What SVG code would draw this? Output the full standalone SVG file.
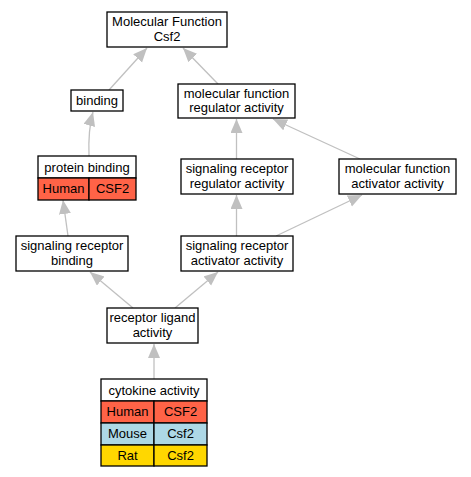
<svg xmlns="http://www.w3.org/2000/svg" width="471" height="477" viewBox="0 0 471 477">
<style>
.n rect{stroke:#000;stroke-width:1.3}
.w{fill:#fff}.h{fill:#ff6347}.m{fill:#add8e6}.r{fill:#ffd700}
text{font-family:"Liberation Sans",Arial,sans-serif;font-size:13px;fill:#000;text-anchor:middle}
.e path{fill:none;stroke:#c0c0c0;stroke-width:1.3}
</style>
<defs>
<marker id="a" markerUnits="userSpaceOnUse" markerWidth="16" markerHeight="14" refX="14" refY="6" orient="auto">
<path d="M0,0 L14,6 L0,12 Z" fill="#c0c0c0" stroke="none"/>
</marker>
</defs>
<rect width="471" height="477" fill="#fff"/>
<g class="e">
<path d="M109,90 L147,48" marker-end="url(#a)"/>
<path d="M218,84 L183,48" marker-end="url(#a)"/>
<path d="M89,156 Q88,130 93,112" marker-end="url(#a)"/>
<path d="M236.5,159 L236.5,119" marker-end="url(#a)"/>
<path d="M360,159 L273,119" marker-end="url(#a)"/>
<path d="M68,236 L63,200" marker-end="url(#a)"/>
<path d="M236.5,236 L236.5,195" marker-end="url(#a)"/>
<path d="M276,236 L362,195" marker-end="url(#a)"/>
<path d="M133,308 L90,272" marker-end="url(#a)"/>
<path d="M175,308 L218,272" marker-end="url(#a)"/>
<path d="M154,379 L154,344" marker-end="url(#a)"/>
</g>
<g id="mf" class="n"><rect class="w" x="107" y="12" width="120" height="35"/><text x="167" y="26">Molecular Function</text><text x="167" y="41">Csf2</text></g>
<g id="binding" class="n"><rect class="w" x="71" y="90" width="52" height="21"/><text x="97" y="105">binding</text></g>
<g id="mfra" class="n"><rect class="w" x="178" y="84" width="117" height="34"/><text x="236.5" y="98">molecular function</text><text x="236.5" y="112">regulator activity</text></g>
<g id="pb" class="n"><rect class="w" x="38" y="156" width="98" height="22"/><text x="87" y="172">protein binding</text>
<rect class="h" x="38" y="178" width="51" height="22"/><rect class="h" x="89" y="178" width="47" height="22"/><text x="63.5" y="193">Human</text><text x="112.5" y="193">CSF2</text></g>
<g id="srra" class="n"><rect class="w" x="181" y="159" width="112" height="35"/><text x="237" y="173">signaling receptor</text><text x="237" y="188">regulator activity</text></g>
<g id="mfaa" class="n"><rect class="w" x="339" y="159" width="117" height="35"/><text x="397.5" y="173">molecular function</text><text x="397.5" y="188">activator activity</text></g>
<g id="srb" class="n"><rect class="w" x="16" y="236" width="112" height="35"/><text x="72" y="250">signaling receptor</text><text x="72" y="265">binding</text></g>
<g id="sraa" class="n"><rect class="w" x="181" y="236" width="112" height="35"/><text x="237" y="250">signaling receptor</text><text x="237" y="265">activator activity</text></g>
<g id="rla" class="n"><rect class="w" x="107" y="308" width="91" height="35"/><text x="152.5" y="322">receptor ligand</text><text x="152.5" y="337">activity</text></g>
<g id="cyto" class="n"><rect class="w" x="101" y="379" width="106" height="22"/><text x="154" y="395">cytokine activity</text>
<rect class="h" x="101" y="401" width="53" height="22"/><rect class="h" x="154" y="401" width="53" height="22"/><text x="127.5" y="416">Human</text><text x="180.5" y="416">CSF2</text>
<rect class="m" x="101" y="423" width="53" height="22"/><rect class="m" x="154" y="423" width="53" height="22"/><text x="127.5" y="438">Mouse</text><text x="180.5" y="438">Csf2</text>
<rect class="r" x="101" y="445" width="53" height="21"/><rect class="r" x="154" y="445" width="53" height="21"/><text x="127.5" y="460">Rat</text><text x="180.5" y="460">Csf2</text></g>
</svg>
